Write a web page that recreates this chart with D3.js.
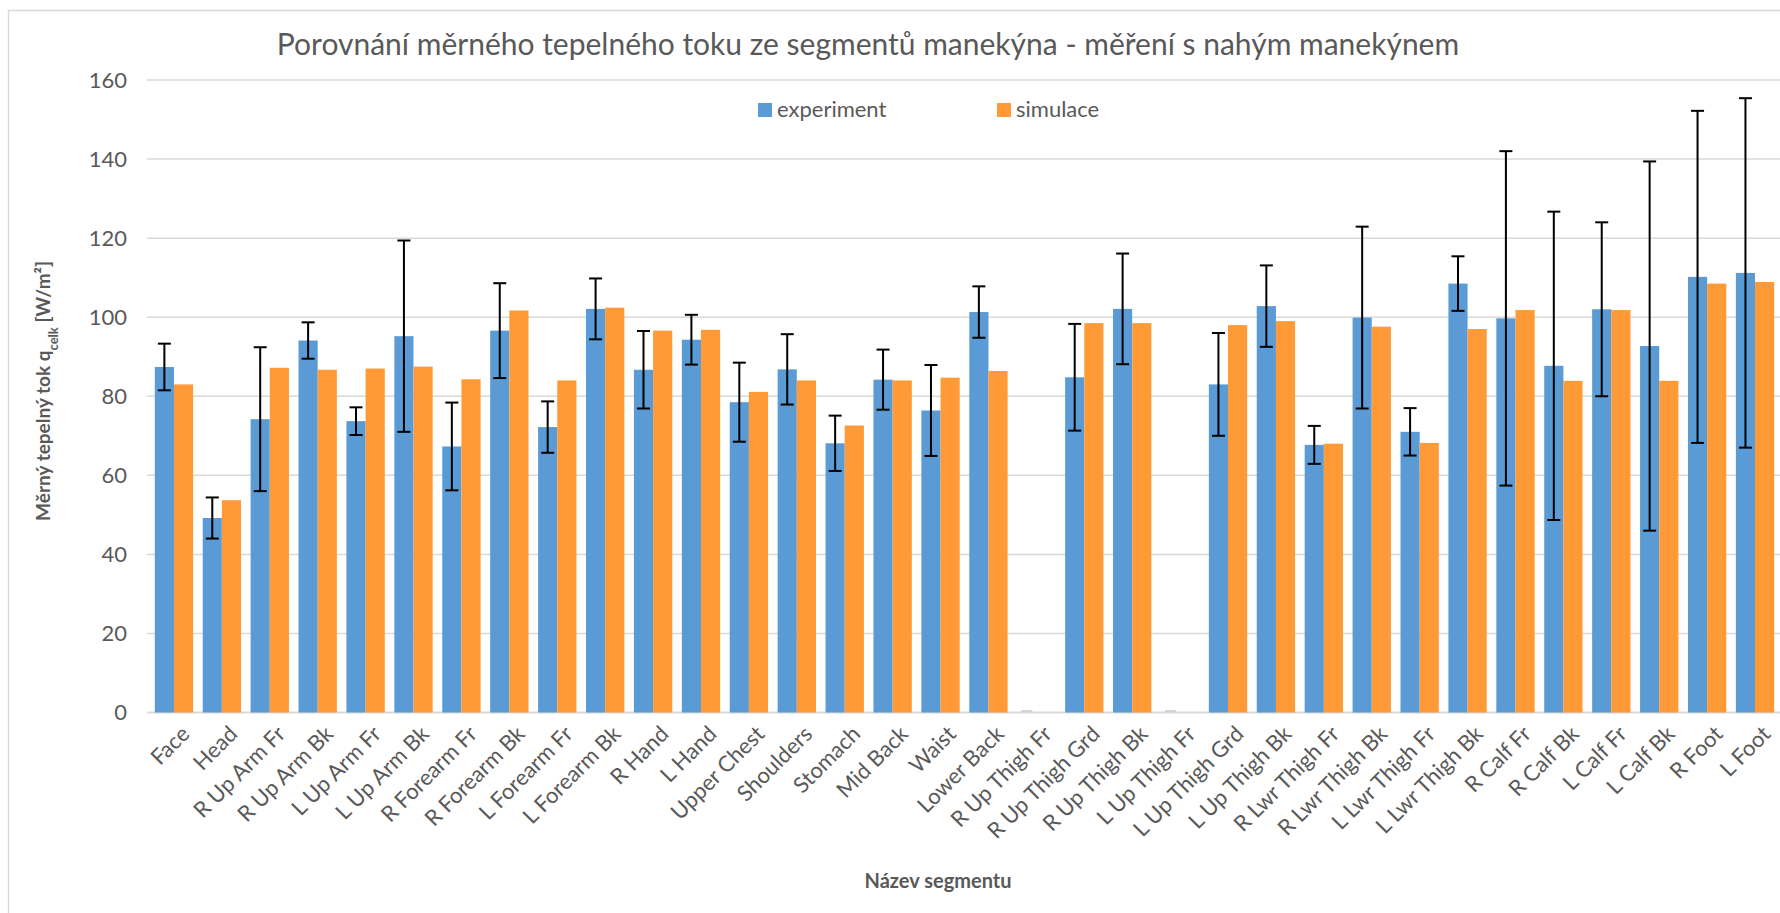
<!DOCTYPE html>
<html><head><meta charset="utf-8">
<script src="https://cdn.jsdelivr.net/npm/d3@7/dist/d3.min.js"></script>
<style>
html,body{margin:0;padding:0;background:#fff;}
svg{display:block;font-family:Lato, "Open Sans", sans-serif;}
</style></head>
<body>
<svg id="chart" width="1780" height="913"></svg>
<script>
const categories = ["Face","Head","R Up Arm Fr","R Up Arm Bk","L Up Arm Fr","L Up Arm Bk","R Forearm Fr","R Forearm Bk","L Forearm Fr","L Forearm Bk","R Hand","L Hand","Upper Chest","Shoulders","Stomach","Mid Back","Waist","Lower Back","R Up Thigh Fr","R Up Thigh Grd","R Up Thigh Bk","L Up Thigh Fr","L Up Thigh Grd","L Up Thigh Bk","R Lwr Thigh Fr","R Lwr Thigh Bk","L Lwr Thigh Fr","L Lwr Thigh Bk","R Calf Fr","R Calf Bk","L Calf Fr","L Calf Bk","R Foot","L Foot"];
const experiment = [87.4,49.2,74.2,94.1,73.7,95.2,67.3,96.6,72.2,102.1,86.7,94.3,78.5,86.8,68.1,84.2,76.4,101.3,0,84.8,102.1,0,83.0,102.8,67.7,99.9,71.0,108.5,99.7,87.7,102.0,92.7,110.2,111.2];
const experimentErr = [5.9,5.2,18.2,4.6,3.5,24.2,11.1,12.0,6.5,7.7,9.8,6.3,10.0,8.9,7.0,7.6,11.5,6.5,0,13.5,14.0,0,13.0,10.3,4.8,23.0,6.0,6.9,42.3,39.0,22.0,46.7,42.0,44.2];
const simulace = [83.0,53.7,87.2,86.7,87.0,87.5,84.3,101.7,84.0,102.4,96.6,96.8,81.1,84.0,72.6,84.0,84.7,86.4,null,98.5,98.5,null,98.0,99.0,68.0,97.6,68.2,97.0,101.8,83.9,101.8,83.9,108.5,108.9];
const yTicks = [0,20,40,60,80,100,120,140,160];
const seriesNames = ["experiment","simulace"];
const colors = ["#5B9BD5","#FF9A36"];
const titleText = "Porovnání měrného tepelného toku ze segmentů manekýna - měření s nahým manekýnem";

const svg = d3.select("#chart");
const textColor = "#595959";

// chart frame
svg.append("rect").attr("x",8.5).attr("y",10.5).attr("width",1800).attr("height",1000)
  .attr("fill","none").attr("stroke","#D9D9D9").attr("stroke-width",1.5);

const plot = {left:150, right:1779, top:80, bottom:712.5};
const x = d3.scaleBand().domain(categories).range([plot.left, plot.right]).paddingInner(0.2).paddingOuter(0.1);
const xs = d3.scaleBand().domain(seriesNames).range([0, x.bandwidth()]);
const y = d3.scaleLinear().domain([0,160]).range([plot.bottom, plot.top]);

// gridlines
svg.append("g").selectAll("line").data(yTicks).join("line")
  .attr("x1",plot.left-3).attr("x2",plot.right+1)
  .attr("y1",d=>y(d)).attr("y2",d=>y(d))
  .attr("stroke","#D9D9D9").attr("stroke-width",d=>d===0?2:1.5);

// y axis labels
const yAxis = d3.axisLeft(y).tickValues(yTicks).tickSize(0).tickPadding(23);
const gy = svg.append("g").attr("transform",`translate(${plot.left},0)`).call(yAxis);
gy.select(".domain").remove();
gy.selectAll("text").attr("fill",textColor).style("font-size","22px").style("font-family","Lato");

// bars
const data = categories.map((c,i)=>({c, vals:[experiment[i], simulace[i]], err:experimentErr[i]}));
const groups = svg.append("g").selectAll("g").data(data).join("g")
  .attr("transform",d=>`translate(${x(d.c)},0)`);
groups.selectAll("rect").data(d=>d.vals.map((v,k)=>({v,k})).filter(o=>o.v!==null && o.v>0)).join("rect")
  .attr("x",o=>xs(seriesNames[o.k])).attr("width",xs.bandwidth())
  .attr("y",o=>y(o.v)).attr("height",o=>y(0)-y(o.v))
  .attr("fill",o=>colors[o.k]);
// zero-value bars shown as faint line
groups.selectAll("line.zero").data(d=>d.vals[0]===0?[0]:[]).join("line").attr("class","zero")
  .attr("x1",xs("experiment")+4).attr("x2",xs("experiment")+xs.bandwidth()-4)
  .attr("y1",y(0)-1.5).attr("y2",y(0)-1.5).attr("stroke","#C8C8C8").attr("stroke-width",1.5);

// error bars
const eb = svg.append("g").selectAll("g").data(data.filter(d=>d.err>0)).join("g")
  .attr("transform",d=>`translate(${x(d.c)+xs("experiment")+xs.bandwidth()/2},0)`)
  .attr("stroke","#000").attr("stroke-width",2);
eb.append("line").attr("x1",0).attr("x2",0).attr("y1",d=>y(d.vals[0]+d.err)).attr("y2",d=>y(d.vals[0]-d.err));
eb.append("line").attr("x1",-6.5).attr("x2",6.5).attr("y1",d=>y(d.vals[0]+d.err)).attr("y2",d=>y(d.vals[0]+d.err));
eb.append("line").attr("x1",-6.5).attr("x2",6.5).attr("y1",d=>y(d.vals[0]-d.err)).attr("y2",d=>y(d.vals[0]-d.err));

// x labels
svg.append("g").selectAll("text").data(categories).join("text")
  .attr("transform",d=>`translate(${x(d)+x.bandwidth()/2+6},${plot.bottom+12}) rotate(-45)`)
  .attr("text-anchor","end").attr("dy","0.7em")
  .attr("fill",textColor).style("font-size","22px").text(d=>d);

// title
svg.append("text").attr("x",868).attr("y",55).attr("text-anchor","middle")
  .attr("fill",textColor).style("font-size","30px").text(titleText);

// legend
const legendX = [758, 997];
const lg = svg.append("g").selectAll("g").data(seriesNames).join("g")
  .attr("transform",(d,i)=>`translate(${legendX[i]},103)`);
lg.append("rect").attr("width",14).attr("height",14).attr("fill",(d,i)=>colors[i]);
lg.append("text").attr("x",19).attr("y",14).attr("fill",textColor).style("font-size","22px").text(d=>d);

// axis titles
const yt = svg.append("text").attr("transform","translate(50,391) rotate(-90)")
  .attr("text-anchor","middle").attr("fill",textColor).style("font-size","19px").style("font-weight","bold");
yt.append("tspan").text("Měrný tepelný tok q");
yt.append("tspan").attr("baseline-shift","sub").style("font-size","13px").text("celk");
yt.append("tspan").text(" [W/m²]");

svg.append("text").attr("x",938).attr("y",888).attr("text-anchor","middle")
  .attr("fill",textColor).style("font-size","20px").style("font-weight","bold").text("Název segmentu");
</script>
</body></html>
